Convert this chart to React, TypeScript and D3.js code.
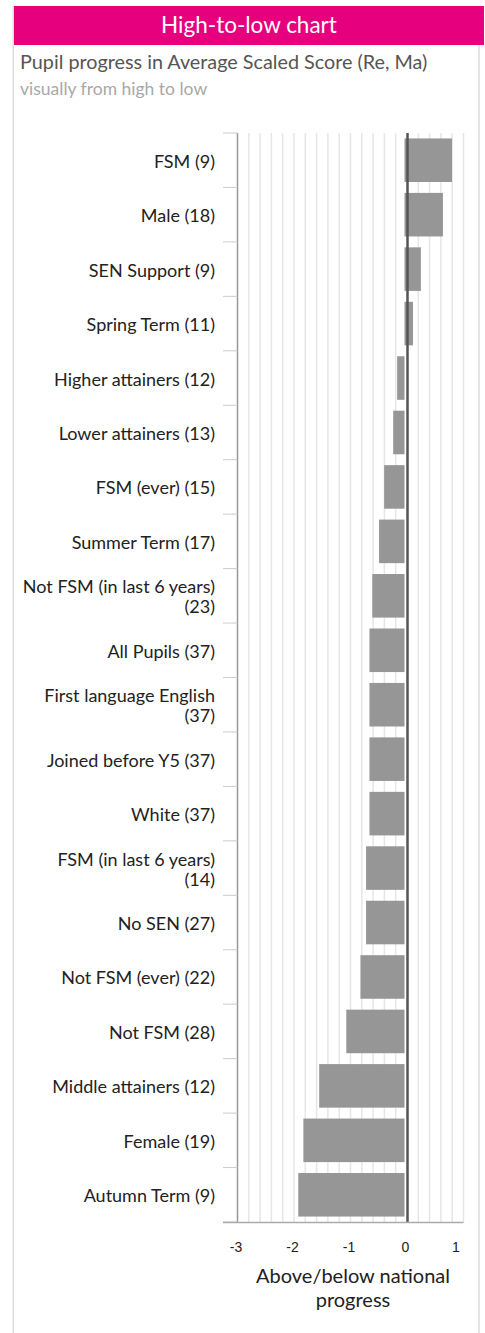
import React from "react";
import * as d3 from "d3";

// groups, top to bottom (already sorted high -> low)
const groups = [
    "FSM", "Male", "SEN Support", "Spring Term", "Higher attainers", "Lower attainers",
    "FSM (ever)", "Summer Term", "Not FSM (in last 6 years)", "All Pupils",
    "First language English", "Joined before Y5", "White", "FSM (in last 6 years)",
    "No SEN", "Not FSM (ever)", "Not FSM", "Middle attainers", "Female", "Autumn Term",
];
const pupils = [9, 18, 9, 11, 12, 13, 15, 17, 23, 37, 37, 37, 37, 14, 27, 22, 28, 12, 19, 9];
const progress = [
    0.84, 0.68, 0.29, 0.15, -0.13, -0.2, -0.36, -0.45, -0.57, -0.62,
    -0.62, -0.62, -0.62, -0.68, -0.68, -0.78, -1.03, -1.51, -1.79, -1.88,
];
const xDomain = [-3, 1];
const title = "High-to-low chart";
const subtitle = "Pupil progress in Average Scaled Score (Re, Ma)";
const subtitle2 = "visually from high to low";
const axisTitle = ["Above/below national", "progress"];

const W = 485, H = 1333;
const FONT = "Lato, 'Noto Sans', sans-serif";
const LABEL_SIZE = 18;
const LABEL_MAX = 192.8;

// measure text with a canvas so labels can be wrapped like the original
const ctx = document.createElement("canvas").getContext("2d");
const wrap = (text, size, max) => {
    ctx.font = `${size}px Lato`;
    const words = text.split(" ");
    const lines = [];
    let line = "";
    words.forEach((w) => {
        const test = line ? line + " " + w : w;
        if (ctx.measureText(test).width > max && line) {
            lines.push(line);
            line = w;
        } else line = test;
    });
    lines.push(line);
    return lines;
};

const App = () => {
    const x = d3.scaleLinear().domain(xDomain).range([237.5, 463.5]);
    const y = d3.scaleBand().domain(groups).range([133, 1222]).paddingInner(0.2).paddingOuter(0.1);
    const step = y.step();
    const grid = x.ticks(20);
    const ticks = x.ticks(4);
    const zeroOff = -2.5; // bars sit just left of the zero line

    return (
        <svg width={W} height={H} style={{ position: "absolute", left: 0, top: 0, background: "#fff" }}>
            {/* frame */}
            <line x1={13.3} x2={13.3} y1={6} y2={H} stroke="#dcdcdc" strokeWidth={1.5} />
            <line x1={479} x2={479} y1={6} y2={H} stroke="#dcdcdc" strokeWidth={1.5} />
            <rect x={14} y={6} width={470} height={39} fill="#e6007e" />
            <text x={249} y={33} textAnchor="middle" fill="#fff" fontFamily={FONT} fontSize={22.5}>{title}</text>
            <text x={20} y={68.5} fill="#555" fontFamily={FONT} fontSize={19.8}>{subtitle}</text>
            <text x={20} y={95} fill="#a8a8a8" fontFamily={FONT} fontSize={17.5}>{subtitle2}</text>

            {/* grid */}
            {grid.filter((t) => t !== 0 && t !== xDomain[0]).map((t) => (
                <line key={t} x1={x(t)} x2={x(t)} y1={133} y2={1222} stroke="#e6e6e6" strokeWidth={1.5} />
            ))}

            {/* bars */}
            {groups.map((g, i) => (
                <rect key={g}
                    x={Math.min(x(0), x(progress[i])) + zeroOff}
                    y={y(g)}
                    width={Math.abs(x(progress[i]) - x(0))}
                    height={y.bandwidth()}
                    fill="#969696"
                />
            ))}

            {/* zero line */}
            <line x1={x(0) + 0.5} x2={x(0) + 0.5} y1={133} y2={1222} stroke="#555" strokeWidth={2.5} />

            {/* category axis */}
            <line x1={x(xDomain[0])} x2={x(xDomain[0])} y1={133} y2={1222} stroke="#999" strokeWidth={1.5} />
            {d3.range(groups.length + 1).map((i) => (
                <line key={i} x1={223} x2={x(xDomain[0])} y1={133 + i * step} y2={133 + i * step} stroke="#ccc" strokeWidth={1} />
            ))}
            <line x1={223} x2={x(xDomain[1])} y1={1222.5} y2={1222.5} stroke="#aaa" strokeWidth={1.5} />
            {groups.map((g, i) => {
                const lines = wrap(`${g} (${pupils[i]})`, LABEL_SIZE, LABEL_MAX);
                const cy = y(g) + y.bandwidth() / 2;
                return (
                    <text key={g} textAnchor="end" fill="#222" fontFamily={FONT} fontSize={LABEL_SIZE}>
                        {lines.map((l, k) => (
                            <tspan key={k} x={215} y={cy + 7.5 - (lines.length - 1) * 10 + k * 20}>{l}</tspan>
                        ))}
                    </text>
                );
            })}

            {/* value axis */}
            {ticks.map((t, i) => (
                <text key={t} x={x(t) - 1.5} dx={i === ticks.length - 1 ? -6 : 0} y={1252} textAnchor="middle"
                    fill="#222" fontFamily="'Liberation Sans', Arial, sans-serif" fontSize={14}>
                    {t}
                </text>
            ))}
            {axisTitle.map((l, k) => (
                <text key={k} x={353} y={1282.5 + k * 24.5} textAnchor="middle" fill="#222" fontFamily={FONT} fontSize={20}>{l}</text>
            ))}
        </svg>
    );
};

export default App;
